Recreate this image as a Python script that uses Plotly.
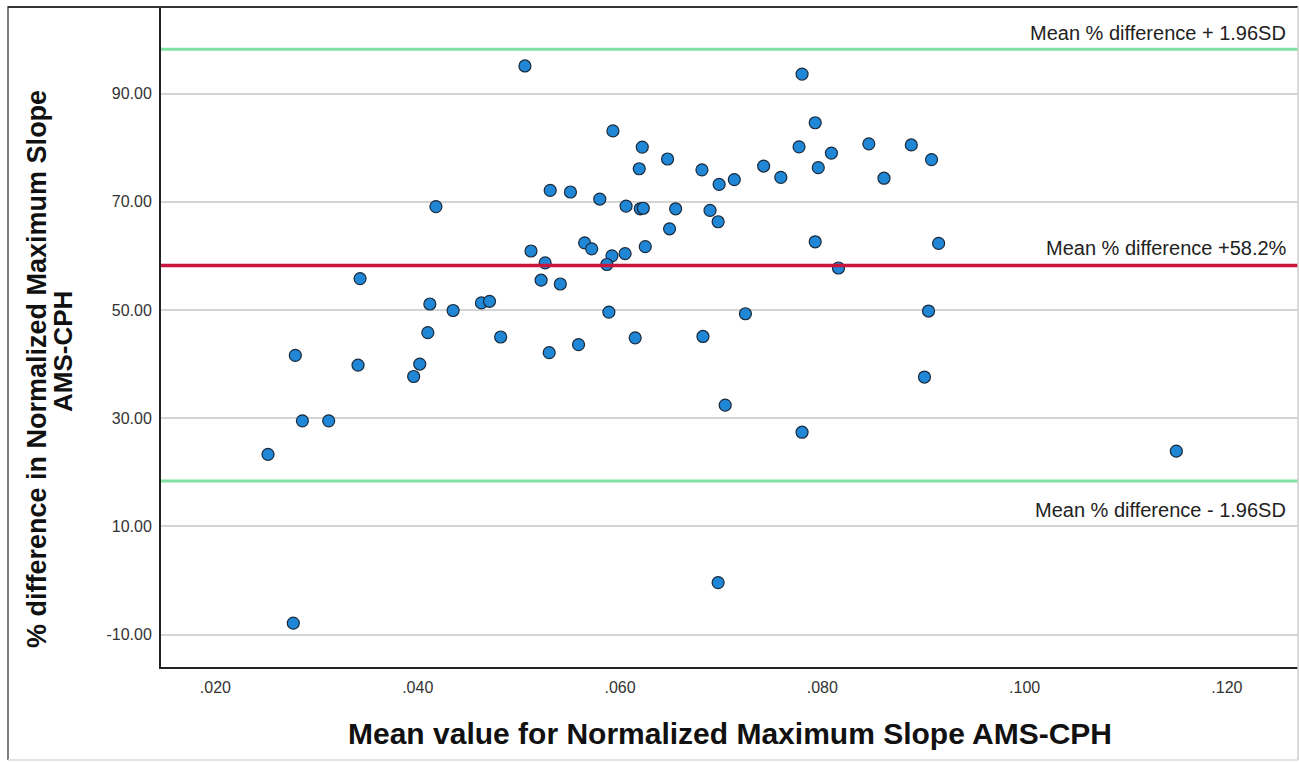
import plotly.graph_objects as go

# ---------------- data ----------------
x_mean = [0.0506, 0.0780, 0.0593, 0.0793, 0.0622, 0.0777, 0.0846, 0.0647, 0.0809, 0.0619,
          0.0681, 0.0796, 0.0742, 0.0759, 0.0861, 0.0698, 0.0713, 0.0531, 0.0551, 0.0580,
          0.0606, 0.0620, 0.0623, 0.0655, 0.0689, 0.0697, 0.0649, 0.0793, 0.0512, 0.0565,
          0.0572, 0.0625, 0.0605, 0.0592, 0.0526, 0.0587, 0.0816, 0.0522, 0.0541, 0.0463,
          0.0471, 0.0435, 0.0589, 0.0724, 0.0482, 0.0530, 0.0559, 0.0615, 0.0682, 0.0704,
          0.0888, 0.0908, 0.0915, 0.0905, 0.0901, 0.0418, 0.0343, 0.0412, 0.0410, 0.0279,
          0.0341, 0.0402, 0.0396, 0.0286, 0.0312, 0.0252, 0.0277, 0.0780, 0.0697, 0.1150]
pct_diff = [95.1, 93.6, 83.1, 84.6, 80.1, 80.15, 80.7, 77.9, 79.0, 76.1,
            75.9, 76.3, 76.6, 74.5, 74.35, 73.2, 74.1, 72.1, 71.8, 70.5,
            69.2, 68.7, 68.8, 68.7, 68.4, 66.3, 65.0, 62.6, 60.9, 62.4,
            61.3, 61.7, 60.4, 60.0, 58.7, 58.4, 57.75, 55.5, 54.8, 51.3,
            51.6, 49.9, 49.6, 49.3, 45.0, 42.1, 43.6, 44.85, 45.1, 32.4,
            80.5, 77.8, 62.3, 49.8, 37.6, 69.1, 55.8, 51.1, 45.8, 41.6,
            39.8, 40.0, 37.7, 29.5, 29.5, 23.3, -7.9, 27.4, -0.4, 23.9]

mean_diff = 58.2
upper_loa = 98.2
lower_loa = 18.4
ref_labels = ["Mean % difference + 1.96SD", "Mean % difference +58.2%", "Mean % difference - 1.96SD"]

y_tickvals = [-10, 10, 30, 50, 70, 90]
y_ticktext = ["-10.00", "10.00", "30.00", "50.00", "70.00", "90.00"]
x_tickvals = [0.02, 0.04, 0.06, 0.08, 0.10, 0.12]
x_ticktext = [".020", ".040", ".060", ".080", ".100", ".120"]

x_title = "Mean value for Normalized Maximum Slope AMS-CPH"
y_title_1 = "% difference in Normalized Maximum Slope"
y_title_2 = "AMS-CPH"

# ---------------- layout geometry (pixels) ----------------
W_FIG, H_FIG = 1299, 762
L, R, T, B = 161, 1298, 7, 667
PW, PH = R - L, B - T


def px_x(p):
    return (p - L) / PW


def px_y(p):
    return (B - p) / PH


FONT = "Liberation Sans, Arial, sans-serif"
GREEN = "#7fe2a2"
RED = "#c8163c"

fig = go.Figure()
fig.add_trace(go.Scatter(
    x=x_mean, y=pct_diff, mode="markers",
    marker=dict(size=12, color="#1f87d6", line=dict(color="#1a2a3c", width=1.2)),
    showlegend=False, hoverinfo="x+y",
))

shapes = []
# reference lines
for val, col, w in [(upper_loa, GREEN, 3), (lower_loa, GREEN, 3), (mean_diff, RED, 3.5)]:
    shapes.append(dict(type="line", xref="paper", yref="y", x0=0, x1=1, y0=val, y1=val,
                       line=dict(color=col, width=w), layer="above"))
# outer frame
shapes += [
    dict(type="line", xref="paper", yref="paper", x0=px_x(8), x1=px_x(8), y0=px_y(6), y1=px_y(760),
         line=dict(color="#555555", width=1.5)),
    dict(type="line", xref="paper", yref="paper", x0=px_x(8), x1=px_x(1298), y0=px_y(7), y1=px_y(7),
         line=dict(color="#333333", width=2)),
    dict(type="line", xref="paper", yref="paper", x0=px_x(1298), x1=px_x(1298), y0=px_y(7), y1=px_y(760),
         line=dict(color="#cfcfcf", width=1.5)),
    dict(type="line", xref="paper", yref="paper", x0=px_x(8), x1=px_x(1298), y0=px_y(760), y1=px_y(760),
         line=dict(color="#d8d8d8", width=1.5)),
]

annotations = [
    dict(text=ref_labels[0], xref="paper", yref="y", x=px_x(1288), y=upper_loa, xanchor="right",
         yanchor="middle", yshift=16, showarrow=False, font=dict(family=FONT, size=20, color="#222222")),
    dict(text=ref_labels[1], xref="paper", yref="y", x=px_x(1289), y=mean_diff, xanchor="right",
         yanchor="middle", yshift=18, showarrow=False, font=dict(family=FONT, size=20, color="#222222")),
    dict(text=ref_labels[2], xref="paper", yref="y", x=px_x(1288), y=lower_loa, xanchor="right",
         yanchor="middle", yshift=-29, showarrow=False, font=dict(family=FONT, size=20, color="#222222")),
    dict(text="<b>" + x_title + "</b>", xref="paper", yref="paper", x=px_x(730), y=px_y(733),
         xanchor="center", yanchor="middle", showarrow=False,
         font=dict(family=FONT, size=30, color="#111111")),
    dict(text="<b>" + y_title_1 + "</b>", xref="paper", yref="paper", x=px_x(37), y=px_y(369),
         xanchor="center", yanchor="middle", textangle=-90, showarrow=False,
         font=dict(family=FONT, size=27, color="#111111")),
    dict(text="<b>" + y_title_2 + "</b>", xref="paper", yref="paper", x=px_x(63), y=px_y(352),
         xanchor="center", yanchor="middle", textangle=-90, showarrow=False,
         font=dict(family=FONT, size=26, color="#111111")),
]

fig.update_layout(
    width=W_FIG, height=H_FIG,
    margin=dict(l=L, r=W_FIG - R, t=T, b=H_FIG - B, pad=0),
    paper_bgcolor="white", plot_bgcolor="white",
    shapes=shapes, annotations=annotations,
    font=dict(family=FONT, color="#333333"),
)
fig.update_xaxes(
    range=[0.01462, 0.12703], tickvals=x_tickvals, ticktext=x_ticktext,
    showgrid=False, zeroline=False, showline=True, linecolor="#222222", linewidth=2,
    ticks="", ticklabelstandoff=5, tickfont=dict(family=FONT, size=16, color="#333333"),
)
fig.update_yaxes(
    range=[-16.0, 106.0], tickvals=y_tickvals, ticktext=y_ticktext,
    showgrid=True, gridcolor="#d4d4d4", gridwidth=1.6, zeroline=False,
    showline=True, linecolor="#222222", linewidth=2,
    ticks="", ticklabelstandoff=4, tickfont=dict(family=FONT, size=16, color="#333333"),
)

fig.write_html("out.html", config={"displayModeBar": False},
               post_script="document.body.style.margin='0';")
